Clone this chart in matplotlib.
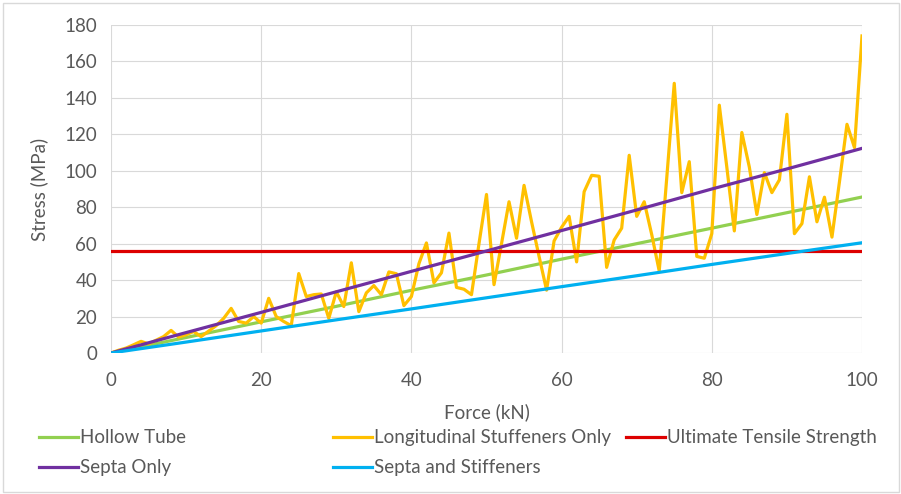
import matplotlib.pyplot as plt
from matplotlib.lines import Line2D
from matplotlib.patches import Rectangle
import numpy as np

# data
force = list(range(0, 101))

long_stiff = [0, 1.5, 2.7, 4.5, 6.4, 5, 7, 9, 12.4, 8.7,
              10, 11.8, 9, 12, 15, 19, 24.5, 17.3, 16.4, 20,
              16.4, 30, 20, 17.3, 15, 43.6, 31, 32, 32.4, 19,
              33.6, 25.5, 49.5, 22.7, 33, 37, 32, 44.5, 43.5, 26,
              31, 49, 60.4, 38.5, 44, 65.8, 36, 35, 32, 60,
              87, 37.5, 60, 83, 63, 92, 72, 53, 34.5, 61.5,
              69, 75, 50, 88.5, 97.5, 97, 47, 62, 68.5, 108.5,
              75, 83, 65, 45, 96, 148, 88, 105, 53, 52,
              65.5, 136, 102, 67, 121, 102, 76, 99, 88, 95,
              131, 65.5, 71, 96.7, 72, 85.5, 63.6, 94, 125.5, 112.7,
              174]

force10 = [0, 10, 20, 30, 40, 50, 60, 70, 80, 90, 100]
hollow = [0, 8.5, 17.1, 25.6, 34.4, 42.8, 51.5, 60, 68.5, 77, 85.6]
septa = [0, 11.2, 22.3, 33.6, 44.8, 56, 67.2, 78.5, 90, 101, 112.3]
septa_stiff = [0, 6, 12.1, 18.2, 24.2, 30.3, 36.4, 42.4, 48.6, 54.6, 60.5]

uts_force = [0, 100]
uts = [56, 56]

labels = ["Hollow Tube", "Longitudinal Stuffeners Only", "Ultimate Tensile Strength",
          "Septa Only", "Septa and Stiffeners"]
colors = ["#92D050", "#FFC000", "#DD0000", "#7030A0", "#00B0F0"]

plt.rcParams['font.family'] = ['Lato', 'DejaVu Sans']
txt = "#595959"
fs = 13.5

W, H = 901, 494
fig = plt.figure(figsize=(W / 100, H / 100), dpi=100)
ax = fig.add_axes([111 / W, 1 - 353 / H, (862 - 111) / W, (353 - 25) / H])

lw = 2.3
ax.plot(force10, hollow, color=colors[0], lw=lw, solid_joinstyle='round')
ax.plot(force, long_stiff, color=colors[1], lw=lw, solid_joinstyle='round')
ax.plot(uts_force, uts, color=colors[2], lw=lw)
ax.plot(force10, septa, color=colors[3], lw=lw, solid_joinstyle='round')
ax.plot(force10, septa_stiff, color=colors[4], lw=lw, solid_joinstyle='round')

ax.set_xlim(0, 100)
ax.set_ylim(0, 180)
ax.set_xticks(np.arange(0, 101, 20))
ax.set_yticks(np.arange(0, 181, 20))
ax.grid(True, color="#d9d9d9", lw=0.8)
ax.set_axisbelow(True)
for s in ax.spines.values():
    s.set_visible(False)
ax.tick_params(length=0, labelsize=fs, labelcolor=txt, pad=10)
ax.tick_params(axis='x', pad=14)

ax.set_xlabel("Force (kN)", fontsize=fs, color=txt, labelpad=10)
ax.set_ylabel("Stress (MPa)", fontsize=fs, color=txt, labelpad=12)

# legend, laid out like the Excel one
legend_pos = [(39, 437), (333, 437), (626, 437), (39, 467), (333, 467)]
for (px, py), lab, c in zip(legend_pos, labels, colors):
    fig.add_artist(Line2D([px / W, (px + 39) / W], [1 - py / H, 1 - py / H],
                          color=c, lw=lw, transform=fig.transFigure))
    fig.text((px + 41) / W, 1 - py / H, lab, fontsize=fs, color=txt,
             va='center', ha='left')

fig.add_artist(Rectangle((3 / W, 2 / H), (W - 5) / W, (H - 5) / H,
                         transform=fig.transFigure, fill=False,
                         edgecolor="#d9d9d9", lw=1))

fig.savefig("out.png", dpi=100)
